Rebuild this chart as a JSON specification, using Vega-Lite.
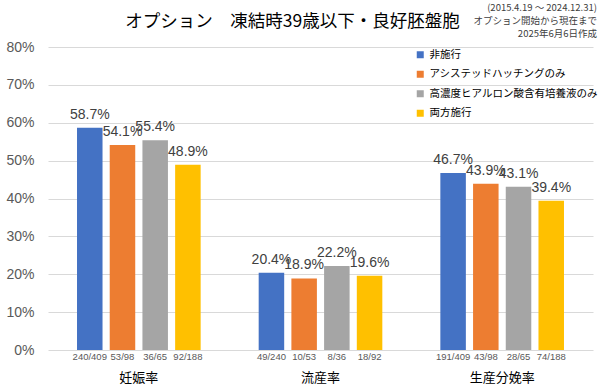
{
  "$schema": "https://vega.github.io/schema/vega-lite/v6.json",
  "width": 545,
  "height": 303,
  "autosize": {"type": "none"},
  "padding": {"left": 48, "top": 47, "right": 7, "bottom": 41},
  "background": "white",
  "title": {
    "text": "オプション　凍結時39歳以下・良好胚盤胞",
    "anchor": "middle",
    "dx": -28,
    "offset": -27,
    "fontSize": 17.5,
    "fontWeight": "normal",
    "font": "Noto Sans CJK JP",
    "color": "#000000"
  },
  "config": {
    "font": "Liberation Sans",
    "view": {"stroke": null}
  },
  "data": {
    "values": [
      {"cat": "妊娠率", "group": "非施行", "value": 0.587, "n": "240/409"},
      {"cat": "妊娠率", "group": "アシステッドハッチングのみ", "value": 0.541, "n": "53/98"},
      {"cat": "妊娠率", "group": "高濃度ヒアルロン酸含有培養液のみ", "value": 0.554, "n": "36/65"},
      {"cat": "妊娠率", "group": "両方施行", "value": 0.489, "n": "92/188"},
      {"cat": "流産率", "group": "非施行", "value": 0.204, "n": "49/240"},
      {"cat": "流産率", "group": "アシステッドハッチングのみ", "value": 0.189, "n": "10/53"},
      {"cat": "流産率", "group": "高濃度ヒアルロン酸含有培養液のみ", "value": 0.222, "n": "8/36"},
      {"cat": "流産率", "group": "両方施行", "value": 0.196, "n": "18/92"},
      {"cat": "生産分娩率", "group": "非施行", "value": 0.467, "n": "191/409"},
      {"cat": "生産分娩率", "group": "アシステッドハッチングのみ", "value": 0.439, "n": "43/98"},
      {"cat": "生産分娩率", "group": "高濃度ヒアルロン酸含有培養液のみ", "value": 0.431, "n": "28/65"},
      {"cat": "生産分娩率", "group": "両方施行", "value": 0.394, "n": "74/188"}
    ]
  },
  "encoding": {
    "x": {
      "field": "cat",
      "type": "nominal",
      "sort": ["妊娠率", "流産率", "生産分娩率"],
      "scale": {"paddingInner": 0, "paddingOuter": 0},
      "axis": {
        "title": null,
        "labelAngle": 0,
        "ticks": false,
        "domain": false,
        "labelPadding": 21,
        "labelFontSize": 13,
        "labelFont": "Noto Sans CJK JP",
        "labelColor": "#000000",
        "labelBaseline": "top"
      }
    },
    "xOffset": {
      "field": "group",
      "type": "nominal",
      "sort": ["非施行", "アシステッドハッチングのみ", "高濃度ヒアルロン酸含有培養液のみ", "両方施行"],
      "scale": {"paddingInner": 0.22, "paddingOuter": 0.887}
    },
    "y": {
      "field": "value",
      "type": "quantitative",
      "scale": {"domain": [0, 0.8], "nice": false},
      "axis": {
        "title": null,
        "values": [0, 0.1, 0.2, 0.3, 0.4, 0.5, 0.6, 0.7, 0.8],
        "tickCount": 9,
        "labelOverlap": false,
        "format": ".0%",
        "domain": false,
        "ticks": false,
        "labelPadding": 14,
        "labelFontSize": 14,
        "labelColor": "#595959",
        "gridColor": "#d9d9d9",
        "gridWidth": 1
      }
    }
  },
  "layer": [
    {
      "mark": {"type": "bar"},
      "encoding": {
        "color": {
          "field": "group",
          "type": "nominal",
          "sort": ["非施行", "アシステッドハッチングのみ", "高濃度ヒアルロン酸含有培養液のみ", "両方施行"],
          "scale": {
            "domain": ["非施行", "アシステッドハッチングのみ", "高濃度ヒアルロン酸含有培養液のみ", "両方施行"],
            "range": ["#4472C4", "#ED7D31", "#A5A5A5", "#FFC000"]
          },
          "legend": {
            "orient": "none",
            "legendX": 367,
            "legendY": -44,
            "title": ["(2015.4.19 ～ 2024.12.31)", "オプション開始から現在まで", "2025年6月6日作成"],
            "titleFont": "Noto Sans CJK JP",
            "titleFontSize": 9.5,
            "titleFontWeight": "normal",
            "titleColor": "#404040",
            "titleLineHeight": 13,
            "titleAnchor": "end",
            "titleAlign": "right",
            "titlePadding": 11,
            "titleLimit": 300,
            "labelFont": "Noto Sans CJK JP",
            "labelFontSize": 10.5,
            "labelColor": "#000000",
            "labelLimit": 300,
            "labelOffset": 4,
            "symbolType": "square",
            "symbolSize": 49,
            "symbolStrokeWidth": 0,
            "rowPadding": 8.5
          }
        }
      }
    },
    {
      "mark": {"type": "text", "baseline": "alphabetic", "dy": -9, "fontSize": 14, "color": "#404040"},
      "encoding": {
        "text": {"field": "value", "type": "quantitative", "format": ".1%"}
      }
    },
    {
      "mark": {"type": "text", "baseline": "middle", "dy": 7, "fontSize": 9.5, "color": "#595959"},
      "encoding": {
        "y": {"datum": 0, "type": "quantitative"},
        "text": {"field": "n", "type": "nominal"}
      }
    }
  ]
}
